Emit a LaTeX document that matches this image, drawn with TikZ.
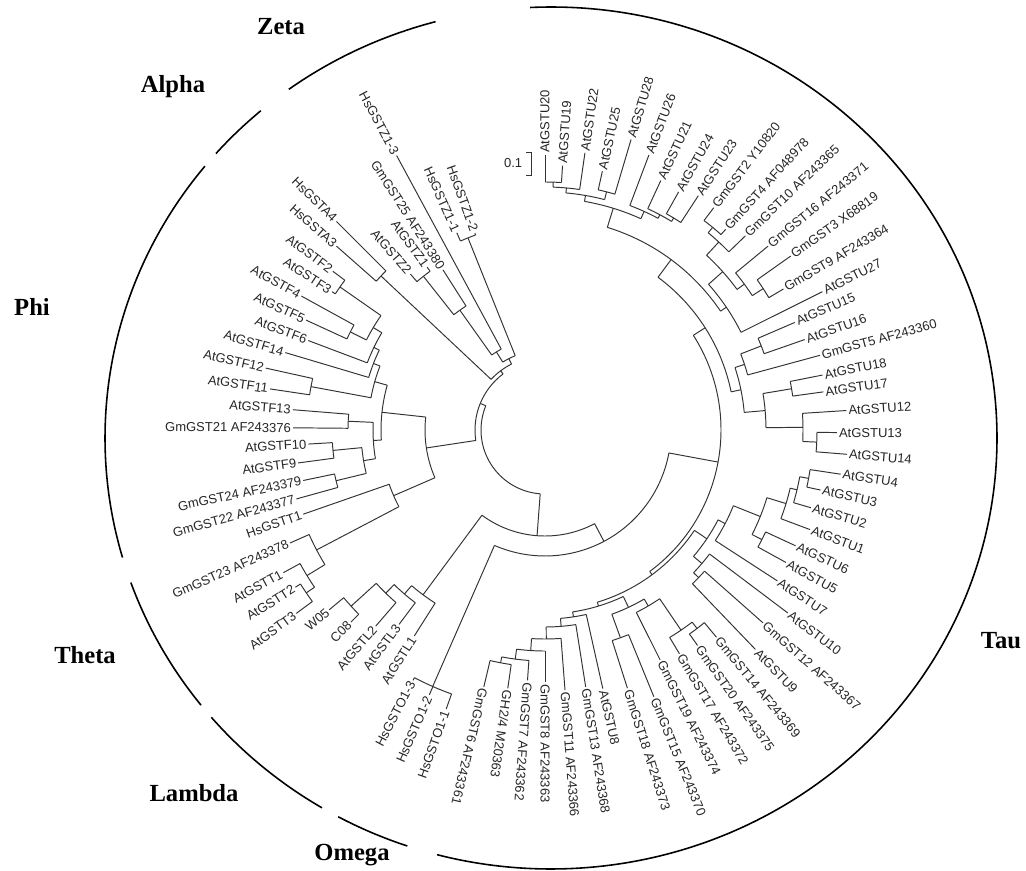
\documentclass[tikz,border=0pt]{standalone}
\usepackage{fontspec}
\setmainfont{Liberation Serif}
\newfontfamily\leaffont{Liberation Sans}
\usetikzlibrary{positioning}

\begin{document}
\begin{tikzpicture}[x=0.02cm, y=0.02cm,
    branch/.style={draw=black!80, line width=0.55pt},
    leaf/.style={font=\leaffont\fontsize{7.4}{8}\selectfont, text=black!85, inner sep=1pt},
    clade/.style={font=\bfseries\fontsize{14}{16}\selectfont},
    ring/.style={draw=black, line width=0.9pt}]
    \useasboundingbox (0,0) rectangle (1026,870);

    % Tree, drawn round its centre
    \begin{scope}[shift={(545,440)}]
    % Leaves (angle/parent radius/tip radius/name), right half
    \foreach \ang/\pr/\rr/\lbl [count=\i] in {
        90.0/248/275/AtGSTU20, 86.2/248/265/AtGSTU19, 81.8/243/280/AtGSTU22,
        77.5/246/265/AtGSTU25, 73.5/246/303/AtGSTU28, 69.3/240/294/AtGSTU26,
        65.1/244/275/AtGSTU21, 60.7/248/273/AtGSTU24, 56.8/248/280/AtGSTU23,
        52.8/263/279/GmGST2 Y10820, 48.0/263/270/GmGST4 AF048978,
        44.1/256/279/GmGST10 AF243365, 39.5/247/289/GmGST16 AF243371,
        35.3/260/301/GmGST3 X68819, 30.6/260/277/GmGST9 AF243364,
        26.5/219/310/AtGSTU27, 23.3/232/272/AtGSTU15, 19.2/232/275/AtGSTU16,
        15.2/210/285/GmGST5 AF243360, 11.2/250/283/AtGSTU18, 7.8/250/281/AtGSTU17,
        3.7/258/302/AtGSTU12, -0.5/272/292/AtGSTU13, -4.6/272/303/AtGSTU14,
        -8.5/268/299/AtGSTU4, -12.3/268/282/AtGSTU3, -16.3/259/277/AtGSTU2,
        -20.6/252/283/AtGSTU1, -24.8/243/276/AtGSTU6, -28.8/243/275/AtGSTU5,
        -33.0/203/277/AtGSTU7, -37.0/206/304/AtGSTU10, -41.5/213/291/GmGST12 AF243367,
        -46.2/213/304/AtGSTU9, -50.4/250/269/GmGST14 AF243369,
        -54.7/250/264/GmGST20 AF243375, -59.0/242/261/GmGST17 AF243372,
        -63.4/204/257/GmGST19 AF243374, -67.8/221/288/GmGST15 AF243370,
        -72.3/221/271/GmGST18 AF243373, -77.4/189/265/AtGSTU8,
        -81.0/197/260/GmGST13 AF243368, -85.6/209/261/GmGST11 AF243366,
        -90.0/221/252/GmGST8 AF243363, -94.0/231/251/GmGST7 AF243362,
        -98.2/237/261/{GH2/4 M20363}, -103.4/237/264/GmGST6 AF243361}{
        \draw[branch] (\ang:\pr) -- (\ang:\rr) coordinate (tip\i);
        \node[leaf, rotate=\ang, anchor=west] (lf\i) at (tip\i) {\lbl};
    }
    % Leaves, left half
    \foreach \ang/\pr/\rr/\lbl [count=\i from 48] in {
        -109.5/280/296/HsGSTO1-1, -113.6/280/289/HsGSTO1-2, -117.8/280/283/HsGSTO1-3,
        -122.4/205/244/AtGSTL1, -126.9/216/243/AtGSTL3, -130.8/228/259/AtGSTL2,
        -135.3/262/273/C08, -140.2/262/281/W05, -143.6/289/309/AtGSTT3,
        -147.8/289/295/AtGSTT2, -151.4/279/298/AtGSTT1, -156.1/258/279/GmGST23 AF243378,
        -160.8/165/256/HsGSTT1, -164.5/215/258/GmGST22 AF243377,
        -168.2/215/247/GmGST24 AF243379, -172.4/213/249/AtGSTF9, -176.6/213/237/AtGSTF10,
        -180.5/197/252/GmGST21 AF243376, -184.6/197/253/AtGSTF13,
        -188.5/238/278/AtGSTF11, -192.5/238/286/AtGSTF12, -196.6/184/271/AtGSTF14,
        -200.7/190/253/AtGSTF6, -204.7/218/263/AtGSTF5, -208.8/218/278/AtGSTF4,
        -213.0/250/254/AtGSTF3, -216.8/250/265/AtGSTF2, -221.4/225/278/HsGSTA3,
        -225.0/225/295/HsGSTA4, -229.2/196/206/AtGSTZ2, -234.1/196/201/AtGSTZ1,
        -237.5/147/190/GmGST25 AF243380, -241.6/92/312/HsGSTZ1-3,
        -245.9/207/216/HsGSTZ1-1, -250.4/207/209/HsGSTZ1-2}{
        \draw[branch] (\ang:\pr) -- (\ang:\rr) coordinate (tip\i);
        \node[leaf, rotate=\ang+180, anchor=east] (lf\i) at (tip\i) {\lbl};
    }
    % Inner nodes (name/angle/parent radius/radius/arc from/arc to)
    \foreach \nm/\ang/\pr/\rr/\sa/\ea in {
        t1/88.1/243/248/90.0/86.2, t2/84.95/238/243/88.1/81.8,
        t3/75.5/238/246/77.5/73.5, t4/80.2/232/238/84.95/75.5,
        t5/58.75/244/248/60.7/56.8, t6/61.9/240/244/65.1/58.75,
        t7/65.6/232/240/69.3/61.9, t8/72.9/212/232/80.2/65.6,
        g1/50.4/256/263/52.8/48.0, g2/47.25/238/256/50.4/44.1,
        g3/32.95/247/260/35.3/30.6, g4/36.2/238/247/39.5/32.95,
        g5/41.7/219/238/47.25/36.2, g6/34.1/212/219/41.7/26.5,
        t9/53.5/190/212/72.9/34.1,
        m1/21.25/210/232/23.3/19.2, m2/18.2/200/210/21.25/15.2,
        m3/9.5/221/250/11.2/7.8, m4/-2.55/258/272/-0.5/-4.6,
        m5/0.6/221/258/3.7/-2.55, m6/5.05/200/221/9.5/0.6,
        m7/11.6/190/200/18.2/5.05, tu/32.55/176/190/53.5/11.6,
        l1/-10.4/259/268/-8.5/-12.3, l2/-13.35/252/259/-10.4/-16.3,
        l3/-16.97/232/252/-13.35/-20.6, l4/-26.8/232/243/-24.8/-28.8,
        l5/-21.9/203/232/-16.97/-26.8, l6/-27.45/195/203/-21.9/-33.0,
        l7/-43.85/206/213/-41.5/-46.2, l8/-40.4/195/206/-37.0/-43.85,
        l9/-33.9/180/195/-27.45/-40.4,
        b1/-52.55/242/250/-50.4/-54.7, b2/-55.8/204/242/-52.55/-59.0,
        b3/-59.6/196/204/-55.8/-63.4, b4/-70.05/196/221/-67.8/-72.3,
        b5/-64.8/184/196/-59.6/-70.05,
        c1/-100.8/231/237/-98.2/-103.4, c2/-97.4/221/231/-94.0/-100.8,
        c3/-93.7/209/221/-90.0/-97.4, c4/-89.65/197/209/-85.6/-93.7,
        c5/-85.3/189/197/-81.0/-89.65, c6/-81.35/184/189/-77.4/-85.3,
        b6/-73.1/180/184/-64.8/-81.35, tl/-53.5/176/180/-33.9/-73.1,
        tau/-10.5/126/176/32.55/-53.5, omega/-113.65/126/280/-109.5/-117.8,
        uo/-62.1/106/126/-10.5/-113.65,
        lam1/-137.75/228/262/-135.3/-140.2, lam2/-134.3/216/228/-130.8/-137.75,
        lam3/-130.6/205/216/-126.9/-134.3, lam/-126.5/106/205/-122.4/-130.6,
        ulo/-94.3/64/106/-62.1/-126.5,
        th3/-145.7/279/289/-143.6/-147.8, th2/-148.55/258/279/-145.7/-151.4,
        th1/-152.3/165/258/-148.55/-156.1, theta/-156.55/120/165/-152.3/-160.8,
        p10/-166.35/184/215/-164.5/-168.2, p9/-174.5/184/213/-172.4/-176.6,
        p11/-170.4/172/184/-166.35/-174.5, p8/-182.55/172/197/-180.5/-184.6,
        p12/-176.5/164/172/-170.4/-182.55, p6/-190.5/177/238/-188.5/-192.5,
        p1/-214.9/200/250/-213.0/-216.8, p2/-206.75/200/218/-204.7/-208.8,
        p3/-210.8/190/200/-206.75/-214.9, p4/-205.75/184/190/-200.7/-210.8,
        p5/-201.2/177/184/-196.6/-205.75, p7/-195.85/164/177/-190.5/-201.2,
        phi/-186.2/120/164/-176.5/-195.85, pt/-171.4/70/120/-156.55/-186.2,
        alpha/-223.2/74/225/-221.4/-225.0,
        z1/-231.65/147/196/-229.2/-234.1, z2/-234.6/92/147/-231.65/-237.5,
        z3/-238.1/80/92/-234.6/-241.6, zh/-248.15/80/207/-245.9/-250.4,
        zeta/-243.1/74/80/-238.1/-248.15, za/-233.15/70/74/-223.2/-243.1,
        ptza/-202.3/64/70/-171.4/-233.15}{
        \draw[branch] (\ang:\pr) -- (\ang:\rr) coordinate (\nm);
        \draw[branch] (\sa:\rr) arc[start angle=\sa, end angle=\ea, radius=\rr];
    }
    % Root
    \coordinate (root) at (0,0);
    \draw[branch] (-94.3:64) arc[start angle=-94.3, end angle=-202.3, radius=64];
    \end{scope}

    % Scale bar
    \coordinate (sb1) at (526,718);
    \coordinate (sb2) at (531,718);
    \coordinate (sb3) at (531,695);
    \coordinate (sb4) at (526,695);
    \draw[branch] (sb1) -- (sb2) -- (sb3) -- (sb4);
    \node[leaf, left=1pt of sb2, yshift=-11.5*0.02cm, xshift=-5*0.02cm] (sblbl) {0.1};

    % Family rings
    \begin{scope}[shift={(551,432)}]
    \foreach \sa/\ea in {92.7/-104.8, -108.8/-118.5, -120.9/-139.6, -141.7/-160.4,
        -163.9/-219.1, -221.3/-229.4, -234.0/-255.0}
        \draw[ring] (\sa:446 and 431) arc[start angle=\sa, end angle=\ea, x radius=446, y radius=431];
    \end{scope}

    % Family names
    \node[clade] (zetalbl) at (281,843) {Zeta};
    \node[clade] (alphalbl) at (173,783) {Alpha};
    \node[clade] (philbl) at (32,563) {Phi};
    \node[clade] (thetalbl) at (85,215) {Theta};
    \node[clade] (lambdalbl) at (194,77) {Lambda};
    \node[clade] (omegalbl) at (352,15) {Omega};
    \node[clade] (taulbl) at (1001,229) {Tau};
\end{tikzpicture}
\end{document}
